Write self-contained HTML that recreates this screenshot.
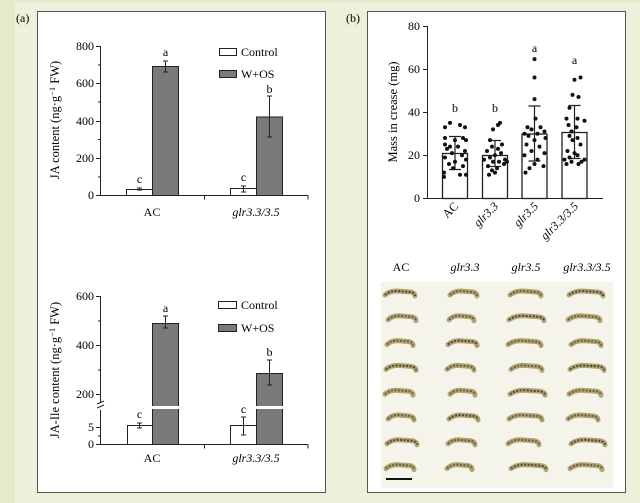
<!DOCTYPE html>
<html><head><meta charset="utf-8"><style>
html,body{margin:0;padding:0;background:#e6eacc;}
svg{display:block;font-family:"Liberation Serif",serif;}
</style></head><body>
<svg id="s" width="640" height="503" viewBox="0 0 640 503" xmlns="http://www.w3.org/2000/svg">
<rect x="0" y="0" width="640" height="503" fill="#e6eacc"/>
<rect x="15" y="3" width="625" height="500" fill="#edf0da"/>
<rect x="37.5" y="11.5" width="288" height="481" fill="#fff" stroke="#555" stroke-width="1"/>
<rect x="367.5" y="11.5" width="258" height="481" fill="#fff" stroke="#555" stroke-width="1"/>
<text x="16" y="22" font-size="12">(a)</text>
<text x="346" y="22" font-size="12">(b)</text>

<!-- Top chart -->
<g stroke="#222" stroke-width="1" fill="none">
<path d="M100.5 46V195.5H308"/>
<path d="M96 46.5h4.5M96 83.5h4.5M96 121.5h4.5M96 158.5h4.5M96 195.5h4.5M98 65h2.5M98 102h2.5M98 139.5h2.5M98 177h2.5"/>
<path d="M204.5 195.5v4M308 195.5v4"/>
</g>
<g font-size="12" text-anchor="end">
<text x="94" y="50">800</text><text x="94" y="87">600</text><text x="94" y="125">400</text><text x="94" y="162">200</text><text x="94" y="199">0</text>
</g>
<rect x="126.5" y="189.5" width="26" height="6" fill="#fff" stroke="#222"/>
<rect x="152.5" y="66.5" width="26" height="129" fill="#7a7a7a" stroke="#222"/>
<rect x="230.5" y="188.5" width="26" height="7" fill="#fff" stroke="#222"/>
<rect x="256.5" y="117" width="26" height="78.5" fill="#7a7a7a" stroke="#222"/>
<g stroke="#222" fill="none">
<path d="M139.5 188v2M137 188h5M137 190h5"/>
<path d="M165.5 61v11M163 61h5M163 72h5"/>
<path d="M243.5 186v6M241 186h5M241 192h5"/>
<path d="M269.5 96v41M267 96h5M267 137h5"/>
</g>
<g font-size="12" text-anchor="middle">
<text x="139.5" y="183">c</text><text x="165.5" y="56">a</text><text x="243.5" y="181">c</text><text x="269.5" y="93">b</text>
<text x="152" y="216">AC</text><text x="256" y="216" font-style="italic">glr3.3/3.5</text>
</g>
<rect x="219.5" y="48.5" width="17" height="7" fill="#fff" stroke="#222"/>
<rect x="219.5" y="70.5" width="17" height="7" fill="#7a7a7a" stroke="#222"/>
<text x="241" y="56" font-size="12">Control</text>
<text x="241" y="78" font-size="12">W+OS</text>
<text transform="translate(59,120) rotate(-90)" font-size="12.5" text-anchor="middle">JA content (ng·g<tspan dy="-4" font-size="8.5">−1</tspan><tspan dy="4"> FW)</tspan></text>

<!-- Bottom chart -->
<g stroke="#222" stroke-width="1" fill="none">
<path d="M100.5 296V402M100.5 410V444.5H308"/>
<path d="M96 296.5h4.5M96 345.5h4.5M96 394.5h4.5M96 427.5h4.5M96 444.5h4.5M98 321h2.5M98 370h2.5M98 436h2.5"/>
<path d="M97 404l7-3M97 408l7-3"/>
<path d="M204.5 444.5v4M308 444.5v4"/>
</g>
<g font-size="12" text-anchor="end">
<text x="94" y="300">600</text><text x="94" y="349">400</text><text x="94" y="398">200</text><text x="94" y="431">5</text><text x="94" y="448">0</text>
</g>
<rect x="127.5" y="425.5" width="25" height="19" fill="#fff" stroke="#222"/>
<rect x="152.5" y="323.5" width="26" height="121" fill="#7a7a7a" stroke="#222"/>
<rect x="230.5" y="425.5" width="26" height="19" fill="#fff" stroke="#222"/>
<rect x="256.5" y="373.5" width="26" height="71" fill="#7a7a7a" stroke="#222"/>
<rect x="150" y="406" width="136" height="3" fill="#fff"/>
<g stroke="#222" fill="none">
<path d="M139.5 423v5M137 423h5M137 428h5"/>
<path d="M165.5 316v12M163 316h5M163 328h5"/>
<path d="M243.5 417v18M241 417h5M241 435h5"/>
<path d="M269.5 360v25M267 360h5M267 385h5"/>
</g>
<g font-size="12" text-anchor="middle">
<text x="139.5" y="418">c</text><text x="165.5" y="312">a</text><text x="243.5" y="413">c</text><text x="269.5" y="356">b</text>
<text x="152" y="462">AC</text><text x="256" y="462" font-style="italic">glr3.3/3.5</text>
</g>
<rect x="218.5" y="301.5" width="18" height="7" fill="#fff" stroke="#222"/>
<rect x="218.5" y="324.5" width="18" height="7" fill="#7a7a7a" stroke="#222"/>
<text x="241" y="309" font-size="12">Control</text>
<text x="241" y="332" font-size="12">W+OS</text>
<text transform="translate(59,370) rotate(-90)" font-size="12.5" text-anchor="middle">JA-Ile content (ng·g<tspan dy="-4" font-size="8.5">−1</tspan><tspan dy="4"> FW)</tspan></text>

<!-- Panel b chart -->
<g stroke="#222" stroke-width="1" fill="none">
<path d="M427.5 26V198.5H603"/>
<path d="M423 26.5h4.5M423 69.5h4.5M423 112.5h4.5M423 155.5h4.5M423 198.5h4.5"/>
</g>
<g font-size="12" text-anchor="end">
<text x="420" y="30">80</text><text x="420" y="73">60</text><text x="420" y="116">40</text><text x="420" y="159">20</text><text x="420" y="202">0</text>
</g>
<g fill="#fff" stroke="#222" stroke-width="1.3">
<rect x="442.5" y="153.5" width="25" height="45"/>
<rect x="482.5" y="155.5" width="25" height="43"/>
<rect x="522" y="134" width="25" height="64.5"/>
<rect x="562" y="132.5" width="25" height="66"/>
</g>
<g stroke="#222" stroke-width="1.2" fill="none">
<path d="M455 136.5v33M449 136.5h12M449 169.5h12"/>
<path d="M495 140.5v26M489 140.5h12M489 166.5h12"/>
<path d="M534.5 106v55M528.5 106h12M528.5 161h12"/>
<path d="M574.5 105.5v53M568.5 105.5h12M568.5 158.5h12"/>
</g>
<g id="dots" fill="#111"></g>
<g font-size="12" text-anchor="middle">
<text x="455" y="112">b</text><text x="495" y="112">b</text><text x="534.5" y="52">a</text><text x="574.5" y="64">a</text>
</g>
<g font-size="12" text-anchor="end">
<text transform="translate(459,207) rotate(-45)">AC</text>
<text transform="translate(499,207) rotate(-45)" font-style="italic">glr3.3</text>
<text transform="translate(539,207) rotate(-45)" font-style="italic">glr3.5</text>
<text transform="translate(579,207) rotate(-45)" font-style="italic">glr3.3/3.5</text>
</g>
<text transform="translate(397,112) rotate(-90)" font-size="12.5" text-anchor="middle">Mass in crease (mg)</text>

<!-- Photo -->
<g font-size="12" text-anchor="middle">
<text x="401" y="271">AC</text>
<text x="465" y="271" font-style="italic">glr3.3</text>
<text x="526" y="271" font-style="italic">glr3.5</text>
<text x="587" y="271" font-style="italic">glr3.3/3.5</text>
</g>
<rect x="381" y="282" width="232" height="206" fill="#f4f4ea"/>
<g id="cat"></g>
<rect x="386" y="478" width="26" height="2" fill="#111"/>
</svg>
<script>
var ns="http://www.w3.org/2000/svg";
var D=[[455,[[35,-5],[34,5],[33,-10],[33,10],[28,-10],[28,8],[27,0],[27,11],[25,-10],[24,-5],[24,3],[23,-8],[22,10],[21,-3],[20,7],[19,-10],[18,11],[17,0],[16,-6],[15,8],[14,-2],[12,-11],[11,5],[11,11],[10,-11]]],
[495,[[35,5],[34,3],[32,-2],[27,-5],[25,7],[24,-3],[23,3],[22,-8],[21,6],[20,0],[19,-5],[18,10],[18,-11],[17,-2],[17,4],[16,9],[15,-7],[14,2],[13,-3],[12,0],[11,-6],[17,12]]],
[534.5,[[64.5,0],[56,0],[46,0],[37,1],[33,-7],[33,6],[32,-3],[31,10],[30,-10],[30,3],[29,-6],[28,11],[27,0],[25,-8],[24,5],[22,-3],[21,10],[20,-10],[18,3],[16,0],[15,9],[14,-5],[12,-9]]],
[574.5,[[56,6],[55,0],[48,-2],[47,4],[42,-5],[37,-8],[37,3],[36,10],[34,-6],[33,2],[31,-3],[29,-5],[28,3],[27,-2],[25,6],[22,-7],[21,0],[20,3],[19,-5],[18,10],[18,-10],[17,7],[16,-8],[16,4],[17,-3]]]];
var g=document.getElementById("dots");
D.forEach(function(c){c[1].forEach(function(p){var e=document.createElementNS(ns,"circle");e.setAttribute("cx",c[0]+p[1]);e.setAttribute("cy",198.5-p[0]*2.16);e.setAttribute("r","2");g.appendChild(e);});});
var cg=document.getElementById("cat");
var cols=[[386,30],[448,29],[509,35],[569,34]];
for(var r=0;r<8;r++){for(var k=0;k<4;k++){var x=cols[k][0]+((r*7+k*3)%4)-1,w=cols[k][1]-((r+k)%3)*2,y=292+r*24.8;
var d="M"+x+" "+(y+3)+"Q"+(x+w*0.15)+" "+(y-1)+" "+(x+w*0.4)+" "+(y-1)+"L"+(x+w*0.85)+" "+(y)+"Q"+(x+w)+" "+(y+1)+" "+(x+w)+" "+(y+4);
var p=document.createElementNS(ns,"path");
p.setAttribute("d",d);p.setAttribute("stroke","#b3a473");p.setAttribute("stroke-width","5");p.setAttribute("fill","none");p.setAttribute("stroke-linecap","round");
cg.appendChild(p);
var q=document.createElementNS(ns,"path");
q.setAttribute("d",d);q.setAttribute("stroke",(r+k)%3==0?"#4e4630":"#6a5f3e");q.setAttribute("stroke-width","2");q.setAttribute("fill","none");q.setAttribute("stroke-dasharray","2 1.5");
cg.appendChild(q);}}
</script>
</body></html>
